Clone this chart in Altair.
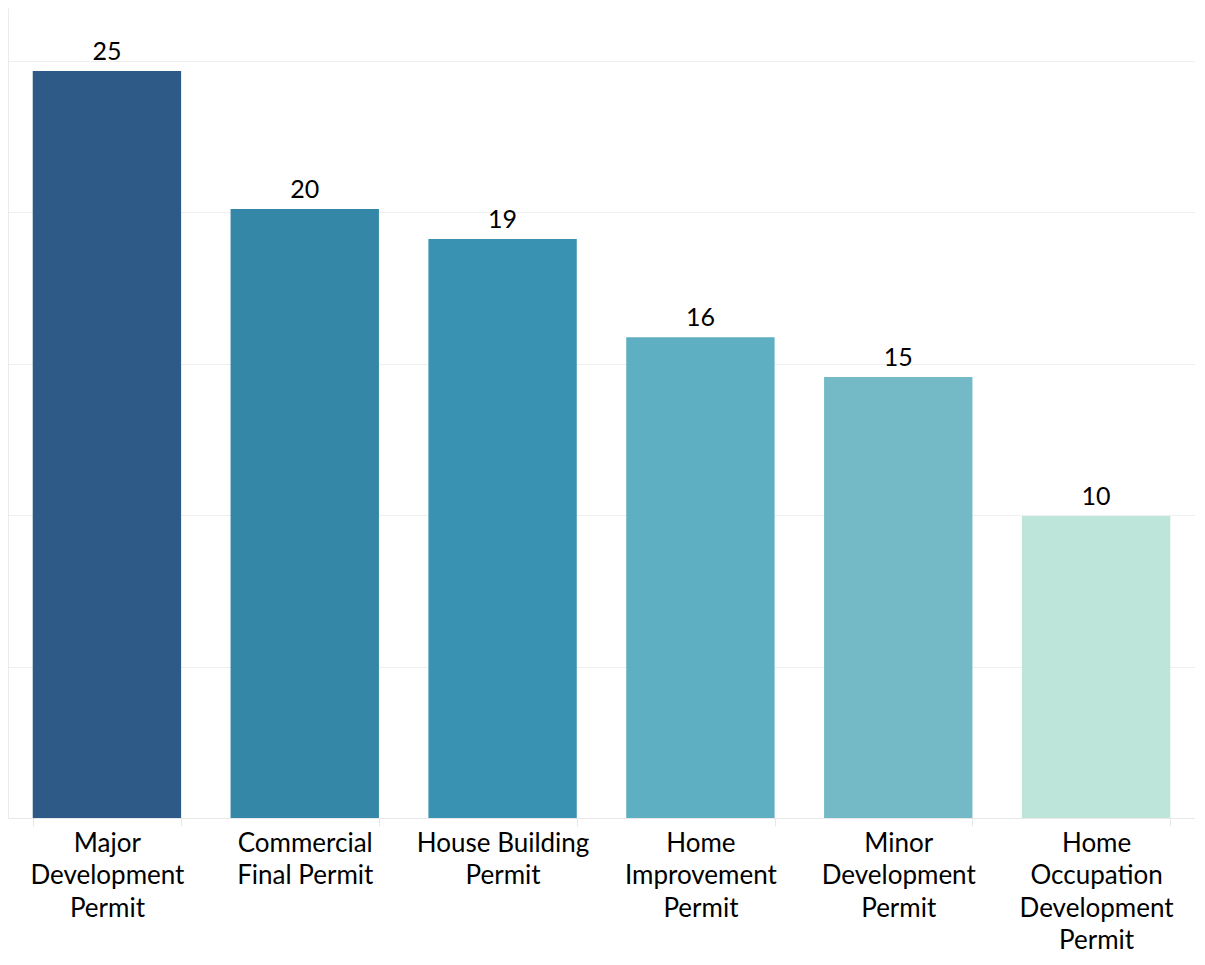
import altair as alt
import pandas as pd

categories = [
    "Major\nDevelopment\nPermit",
    "Commercial\nFinal Permit",
    "House Building\nPermit",
    "Home\nImprovement\nPermit",
    "Minor\nDevelopment\nPermit",
    "Home\nOccupation\nDevelopment\nPermit",
]
values = [24.67, 20.11, 19.12, 15.88, 14.56, 9.97]
colors = ["#2D5A86", "#3587A7", "#3A92B3", "#5FAFC2", "#74BAC6", "#BDE5DA"]

df = pd.DataFrame({"cat": categories, "val": values, "color": colors})

FONT = "Lato"

x = alt.X(
    "cat:N",
    sort=None,
    title=None,
    scale=alt.Scale(paddingInner=0.25, paddingOuter=0.125),
    axis=alt.Axis(
        labelExpr="split(datum.label, '\\n')",
        labelAngle=0,
        labelFont=FONT,
        labelFontSize=26,
        labelColor="#000000",
        labelLineHeight=32.5,
        labelPadding=4,
        labelBaseline="top",
        tickBand="extent",
        tickColor="#E8E8E8",
        tickSize=8,
        domainColor="#E8E8E8",
        labelLimit=300,
    ),
)
y = alt.Y(
    "val:Q",
    title=None,
    scale=alt.Scale(domain=[0, 26.75], nice=False),
    axis=alt.Axis(
        values=[0, 5, 10, 15, 20, 25],
        labels=False,
        ticks=False,
        domainColor="#EBEBEB",
        gridColor="#EFEFEF",
        gridWidth=1,
    ),
)

bars = alt.Chart(df).mark_bar().encode(
    x=x, y=y, color=alt.Color("color:N", scale=None)
)
text = alt.Chart(df).mark_text(
    baseline="bottom", dy=-6, font=FONT, fontSize=25, color="#000000"
).encode(x=x, y=y, text=alt.Text("val:Q", format=".0f"))

chart = (
    (bars + text)
    .properties(
        width=1187,
        height=810,
        autosize=alt.AutoSizeParams(type="none"),
        padding={"left": 0, "top": 0, "right": 0, "bottom": 139},
    )
    .configure_view(stroke=None)
)

chart.save("out.html", embed_options={"renderer": "svg", "actions": False})
